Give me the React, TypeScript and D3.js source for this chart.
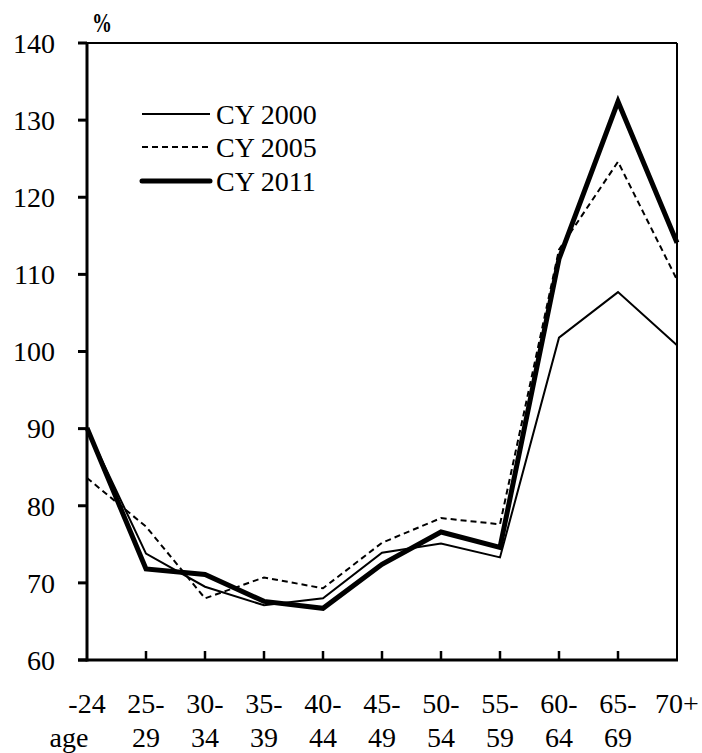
import React from "react";
import * as d3 from "d3";

const categories = ["-24", "25-29", "30-34", "35-39", "40-44", "45-49", "50-54", "55-59", "60-64", "65-69", "70+"];
const labelTop = ["-24", "25-", "30-", "35-", "40-", "45-", "50-", "55-", "60-", "65-", "70+"];
const labelBottom = ["", "29", "34", "39", "44", "49", "54", "59", "64", "69", ""];
const yTicks = [60, 70, 80, 90, 100, 110, 120, 130, 140];

const cy2000 = [90.0, 73.8, 69.5, 67.1, 68.0, 73.9, 75.1, 73.3, 101.8, 107.7, 100.8];
const cy2005 = [83.6, 77.3, 68.0, 70.7, 69.3, 75.2, 78.4, 77.6, 113.2, 124.6, 109.3];
const cy2011 = [90.1, 71.8, 71.1, 67.6, 66.7, 72.4, 76.6, 74.6, 112.0, 132.4, 114.1];

const seriesNames = ["CY 2000", "CY 2005", "CY 2011"];

const W = 702;
const H = 753;
const L = 87, R = 677, T = 43, B = 660;
const FONT = "Liberation Serif, Times New Roman, Tinos, DejaVu Serif, serif";
const ts: React.CSSProperties = { fontFamily: FONT };

export default function App() {
  const x = d3.scalePoint<string>().domain(categories).range([L, R]);
  const y = d3.scaleLinear().domain([60, 140]).range([B, T]);
  const line = d3
    .line<number>()
    .x((_, i) => x(categories[i]) as number)
    .y((d) => y(d));

  const styles = [
    { w: 2, dash: undefined as string | undefined },
    { w: 2, dash: "6,4" },
    { w: 5, dash: undefined as string | undefined },
  ];
  const data = [cy2000, cy2005, cy2011];
  const legendY = [114, 147, 181];

  return (
    <svg
      width={W}
      height={H}
      style={{ position: "absolute", left: 0, top: 0, background: "#fff" }}
    >
      <rect x={0} y={0} width={W} height={H} fill="#fff" />
      {/* frame */}
      <line x1={R} x2={R} y1={T} y2={B} stroke="#000" strokeWidth={2} />
      <line x1={L - 9} x2={R} y1={T} y2={T} stroke="#000" strokeWidth={2} />
      {/* y ticks */}
      {yTicks.map((t) => (
        <g key={t}>
          <line x1={L - 9} x2={L} y1={y(t)} y2={y(t)} stroke="#000" strokeWidth={3} />
          <text x={55} y={y(t)} dy="0.35em" textAnchor="end" fontSize={28} style={ts}>
            {t}
          </text>
        </g>
      ))}
      {/* x ticks */}
      {categories.map((c, i) => (
        <g key={c}>
          {i > 0 && i < categories.length - 1 && (
            <line x1={x(c)} x2={x(c)} y1={B} y2={B - 9} stroke="#000" strokeWidth={2.5} />
          )}
          <text x={x(c)} y={713} textAnchor="middle" fontSize={28} style={ts}>
            {labelTop[i]}
          </text>
          {labelBottom[i] && (
            <text x={x(c)} y={747} textAnchor="middle" fontSize={28} style={ts}>
              {labelBottom[i]}
            </text>
          )}
        </g>
      ))}
      <text x={69} y={747} textAnchor="middle" fontSize={28} style={ts}>
        age
      </text>
      <text
        x={92}
        y={32}
        fontSize={28}
        fontWeight="bold"
        textLength={20}
        lengthAdjust="spacingAndGlyphs"
        style={ts}
      >
        %
      </text>
      {/* series */}
      {data.map((d, k) => (
        <path
          key={k}
          d={line(d) || ""}
          fill="none"
          stroke="#000"
          strokeWidth={styles[k].w}
          strokeDasharray={styles[k].dash}
          strokeLinejoin="miter"
        />
      ))}
      {/* axes */}
      <line x1={L} x2={L} y1={T - 1} y2={B + 1.5} stroke="#000" strokeWidth={3} />
      <line x1={L - 9} x2={R + 1} y1={B} y2={B} stroke="#000" strokeWidth={3} />
      {/* legend */}
      {seriesNames.map((n, k) => (
        <g key={n}>
          <line
            x1={142}
            x2={210}
            y1={legendY[k]}
            y2={legendY[k]}
            stroke="#000"
            strokeWidth={styles[k].w}
            strokeDasharray={styles[k].dash}
            strokeLinecap={k === 2 ? "round" : "butt"}
          />
          <text x={216} y={legendY[k] + 10} fontSize={28} style={ts}>
            {n}
          </text>
        </g>
      ))}
    </svg>
  );
}
